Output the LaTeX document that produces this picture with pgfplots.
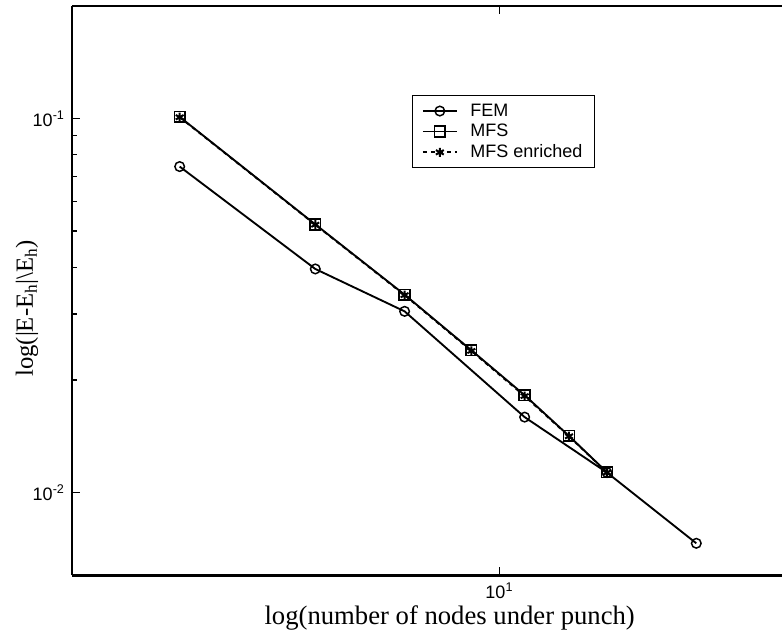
\documentclass[border=0pt]{standalone}
\usepackage{pgfplots}
\pgfplotsset{compat=1.18}
\usepackage{fontspec}
\setmainfont{Liberation Serif}
\setsansfont{Liberation Sans}

\begin{document}
\begin{tikzpicture}
\begin{axis}[
    xmode=log, ymode=log,
    scale only axis,
    width=532.5pt, height=427pt,
    xmin=2, xmax=29,
    ymin=0.006, ymax=0.2,
    axis x line*=box, axis y line*=left,
    xtick pos=both, ytick pos=left,
    axis line style={line width=1.8pt},
    tick style={black, line width=1pt},
    major tick length=6pt, minor tick length=3.5pt,
    xtick={10}, xticklabels={10\textsuperscript{1}},
    ytick={0.01,0.1}, yticklabels={10\textsuperscript{-2},10\textsuperscript{-1}},
    ticklabel style={font=\sffamily\fontsize{13.5}{15}\selectfont},
    xticklabel style={yshift=-2pt},
    yticklabel style={xshift=-2pt},
    xlabel={log(number of nodes under punch)},
    ylabel={log(|E-E$_{\mathrm{h}}$|\textbackslash E$_{\mathrm{h}}$)},
    xlabel style={font=\fontsize{20}{23}\selectfont, at={(rel axis cs:0.532,0)}, anchor=base, yshift=-36.5pt},
    ylabel style={font=\fontsize{18.5}{22}\selectfont, at={(rel axis cs:0,0.469)}, anchor=center, yshift=33.75pt},
    legend style={at={(rel axis cs:0.479,0.843)}, anchor=north west,
        font=\sffamily\fontsize{13.5}{15.75}\selectfont,
        draw=black, line width=0.7pt, inner xsep=7pt, inner ysep=4pt,
        column sep=7.5pt, row sep=0.5pt,
        cells={anchor=west}},
    legend image code/.code={
        \draw[mark repeat=2,mark phase=2,#1] plot coordinates {(0pt,0pt)(12.75pt,0pt)(25.5pt,0pt)};
    },
    every axis plot/.append style={black, line width=1.4pt},
]

\addplot[mark=o, mark size=3.6pt, mark options={solid, line width=1.1pt}]
    coordinates {
    (3,0.0744)(5,0.0396)(7,0.0305)(11,0.0159)(15,0.0113)(21,0.00731)
    };
\addlegendentry{FEM}

\addplot[mark=square, mark size=4pt, mark options={solid, line width=1.2pt}]
    coordinates {
    (3,0.101)(5,0.0521)(7,0.0338)(9,0.0240)(11,0.0182)(13,0.01416)(15,0.01132)
    };
\addlegendentry{MFS}

\addplot[dashed, mark=asterisk, mark size=3.4pt, mark options={solid, line width=1.5pt}]
    coordinates {
    (3,0.1008)(5,0.0520)(7,0.0337)(9,0.0239)(11,0.0181)(13,0.01413)(15,0.01130)
    };
\addlegendentry{MFS enriched}

\coordinate (bl) at (rel axis cs:0,0);
\coordinate (tr) at (rel axis cs:1,1);
\end{axis}
\pgfresetboundingbox
\path[use as bounding box] ([xshift=-54pt,yshift=-42pt]bl) rectangle ([yshift=4.5pt]tr);
\end{tikzpicture}
\end{document}
